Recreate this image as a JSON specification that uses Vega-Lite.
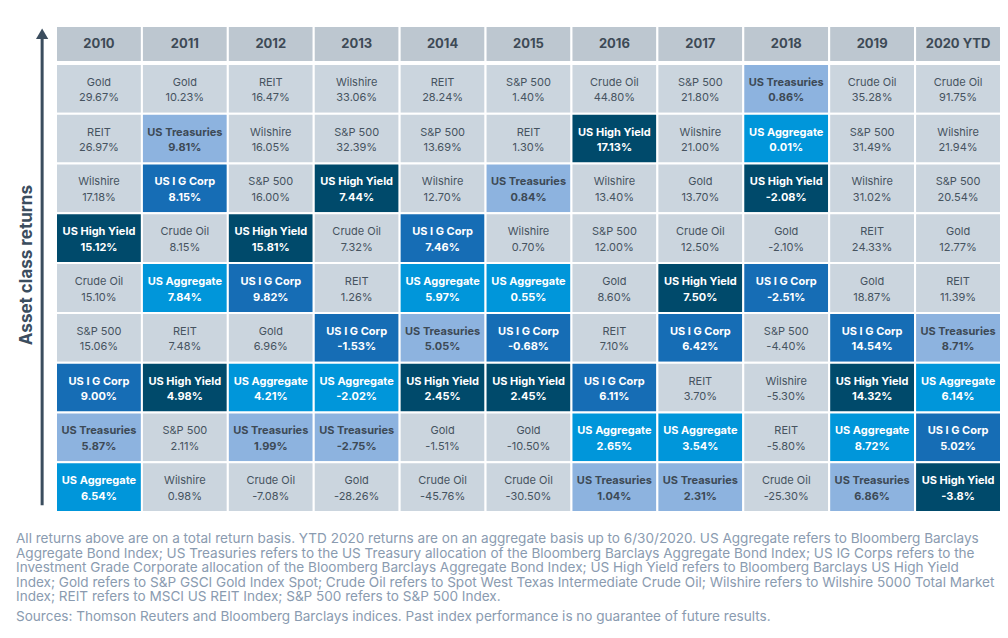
{
  "$schema": "https://vega.github.io/schema/vega-lite/v6.json",
  "background": "white",
  "padding": {"left": 16, "top": 25, "right": 0, "bottom": 0},
  "config": {"view": {"stroke": null}, "font": "Inter"},
  "datasets": {
    "years": [
      {"year": "2010"}, {"year": "2011"}, {"year": "2012"}, {"year": "2013"}, {"year": "2014"}, {"year": "2015"},
      {"year": "2016"}, {"year": "2017"}, {"year": "2018"}, {"year": "2019"}, {"year": "2020 YTD"}
    ],
    "cells": [
      {"year": "2010", "rank": 1, "asset": "Gold", "ret": "29.67%"},
      {"year": "2010", "rank": 2, "asset": "REIT", "ret": "26.97%"},
      {"year": "2010", "rank": 3, "asset": "Wilshire", "ret": "17.18%"},
      {"year": "2010", "rank": 4, "asset": "US High Yield", "ret": "15.12%"},
      {"year": "2010", "rank": 5, "asset": "Crude Oil", "ret": "15.10%"},
      {"year": "2010", "rank": 6, "asset": "S&P 500", "ret": "15.06%"},
      {"year": "2010", "rank": 7, "asset": "US I G Corp", "ret": "9.00%"},
      {"year": "2010", "rank": 8, "asset": "US Treasuries", "ret": "5.87%"},
      {"year": "2010", "rank": 9, "asset": "US Aggregate", "ret": "6.54%"},
      {"year": "2011", "rank": 1, "asset": "Gold", "ret": "10.23%"},
      {"year": "2011", "rank": 2, "asset": "US Treasuries", "ret": "9.81%"},
      {"year": "2011", "rank": 3, "asset": "US I G Corp", "ret": "8.15%"},
      {"year": "2011", "rank": 4, "asset": "Crude Oil", "ret": "8.15%"},
      {"year": "2011", "rank": 5, "asset": "US Aggregate", "ret": "7.84%"},
      {"year": "2011", "rank": 6, "asset": "REIT", "ret": "7.48%"},
      {"year": "2011", "rank": 7, "asset": "US High Yield", "ret": "4.98%"},
      {"year": "2011", "rank": 8, "asset": "S&P 500", "ret": "2.11%"},
      {"year": "2011", "rank": 9, "asset": "Wilshire", "ret": "0.98%"},
      {"year": "2012", "rank": 1, "asset": "REIT", "ret": "16.47%"},
      {"year": "2012", "rank": 2, "asset": "Wilshire", "ret": "16.05%"},
      {"year": "2012", "rank": 3, "asset": "S&P 500", "ret": "16.00%"},
      {"year": "2012", "rank": 4, "asset": "US High Yield", "ret": "15.81%"},
      {"year": "2012", "rank": 5, "asset": "US I G Corp", "ret": "9.82%"},
      {"year": "2012", "rank": 6, "asset": "Gold", "ret": "6.96%"},
      {"year": "2012", "rank": 7, "asset": "US Aggregate", "ret": "4.21%"},
      {"year": "2012", "rank": 8, "asset": "US Treasuries", "ret": "1.99%"},
      {"year": "2012", "rank": 9, "asset": "Crude Oil", "ret": "-7.08%"},
      {"year": "2013", "rank": 1, "asset": "Wilshire", "ret": "33.06%"},
      {"year": "2013", "rank": 2, "asset": "S&P 500", "ret": "32.39%"},
      {"year": "2013", "rank": 3, "asset": "US High Yield", "ret": "7.44%"},
      {"year": "2013", "rank": 4, "asset": "Crude Oil", "ret": "7.32%"},
      {"year": "2013", "rank": 5, "asset": "REIT", "ret": "1.26%"},
      {"year": "2013", "rank": 6, "asset": "US I G Corp", "ret": "-1.53%"},
      {"year": "2013", "rank": 7, "asset": "US Aggregate", "ret": "-2.02%"},
      {"year": "2013", "rank": 8, "asset": "US Treasuries", "ret": "-2.75%"},
      {"year": "2013", "rank": 9, "asset": "Gold", "ret": "-28.26%"},
      {"year": "2014", "rank": 1, "asset": "REIT", "ret": "28.24%"},
      {"year": "2014", "rank": 2, "asset": "S&P 500", "ret": "13.69%"},
      {"year": "2014", "rank": 3, "asset": "Wilshire", "ret": "12.70%"},
      {"year": "2014", "rank": 4, "asset": "US I G Corp", "ret": "7.46%"},
      {"year": "2014", "rank": 5, "asset": "US Aggregate", "ret": "5.97%"},
      {"year": "2014", "rank": 6, "asset": "US Treasuries", "ret": "5.05%"},
      {"year": "2014", "rank": 7, "asset": "US High Yield", "ret": "2.45%"},
      {"year": "2014", "rank": 8, "asset": "Gold", "ret": "-1.51%"},
      {"year": "2014", "rank": 9, "asset": "Crude Oil", "ret": "-45.76%"},
      {"year": "2015", "rank": 1, "asset": "S&P 500", "ret": "1.40%"},
      {"year": "2015", "rank": 2, "asset": "REIT", "ret": "1.30%"},
      {"year": "2015", "rank": 3, "asset": "US Treasuries", "ret": "0.84%"},
      {"year": "2015", "rank": 4, "asset": "Wilshire", "ret": "0.70%"},
      {"year": "2015", "rank": 5, "asset": "US Aggregate", "ret": "0.55%"},
      {"year": "2015", "rank": 6, "asset": "US I G Corp", "ret": "-0.68%"},
      {"year": "2015", "rank": 7, "asset": "US High Yield", "ret": "2.45%"},
      {"year": "2015", "rank": 8, "asset": "Gold", "ret": "-10.50%"},
      {"year": "2015", "rank": 9, "asset": "Crude Oil", "ret": "-30.50%"},
      {"year": "2016", "rank": 1, "asset": "Crude Oil", "ret": "44.80%"},
      {"year": "2016", "rank": 2, "asset": "US High Yield", "ret": "17.13%"},
      {"year": "2016", "rank": 3, "asset": "Wilshire", "ret": "13.40%"},
      {"year": "2016", "rank": 4, "asset": "S&P 500", "ret": "12.00%"},
      {"year": "2016", "rank": 5, "asset": "Gold", "ret": "8.60%"},
      {"year": "2016", "rank": 6, "asset": "REIT", "ret": "7.10%"},
      {"year": "2016", "rank": 7, "asset": "US I G Corp", "ret": "6.11%"},
      {"year": "2016", "rank": 8, "asset": "US Aggregate", "ret": "2.65%"},
      {"year": "2016", "rank": 9, "asset": "US Treasuries", "ret": "1.04%"},
      {"year": "2017", "rank": 1, "asset": "S&P 500", "ret": "21.80%"},
      {"year": "2017", "rank": 2, "asset": "Wilshire", "ret": "21.00%"},
      {"year": "2017", "rank": 3, "asset": "Gold", "ret": "13.70%"},
      {"year": "2017", "rank": 4, "asset": "Crude Oil", "ret": "12.50%"},
      {"year": "2017", "rank": 5, "asset": "US High Yield", "ret": "7.50%"},
      {"year": "2017", "rank": 6, "asset": "US I G Corp", "ret": "6.42%"},
      {"year": "2017", "rank": 7, "asset": "REIT", "ret": "3.70%"},
      {"year": "2017", "rank": 8, "asset": "US Aggregate", "ret": "3.54%"},
      {"year": "2017", "rank": 9, "asset": "US Treasuries", "ret": "2.31%"},
      {"year": "2018", "rank": 1, "asset": "US Treasuries", "ret": "0.86%"},
      {"year": "2018", "rank": 2, "asset": "US Aggregate", "ret": "0.01%"},
      {"year": "2018", "rank": 3, "asset": "US High Yield", "ret": "-2.08%"},
      {"year": "2018", "rank": 4, "asset": "Gold", "ret": "-2.10%"},
      {"year": "2018", "rank": 5, "asset": "US I G Corp", "ret": "-2.51%"},
      {"year": "2018", "rank": 6, "asset": "S&P 500", "ret": "-4.40%"},
      {"year": "2018", "rank": 7, "asset": "Wilshire", "ret": "-5.30%"},
      {"year": "2018", "rank": 8, "asset": "REIT", "ret": "-5.80%"},
      {"year": "2018", "rank": 9, "asset": "Crude Oil", "ret": "-25.30%"},
      {"year": "2019", "rank": 1, "asset": "Crude Oil", "ret": "35.28%"},
      {"year": "2019", "rank": 2, "asset": "S&P 500", "ret": "31.49%"},
      {"year": "2019", "rank": 3, "asset": "Wilshire", "ret": "31.02%"},
      {"year": "2019", "rank": 4, "asset": "REIT", "ret": "24.33%"},
      {"year": "2019", "rank": 5, "asset": "Gold", "ret": "18.87%"},
      {"year": "2019", "rank": 6, "asset": "US I G Corp", "ret": "14.54%"},
      {"year": "2019", "rank": 7, "asset": "US High Yield", "ret": "14.32%"},
      {"year": "2019", "rank": 8, "asset": "US Aggregate", "ret": "8.72%"},
      {"year": "2019", "rank": 9, "asset": "US Treasuries", "ret": "6.86%"},
      {"year": "2020 YTD", "rank": 1, "asset": "Crude Oil", "ret": "91.75%"},
      {"year": "2020 YTD", "rank": 2, "asset": "Wilshire", "ret": "21.94%"},
      {"year": "2020 YTD", "rank": 3, "asset": "S&P 500", "ret": "20.54%"},
      {"year": "2020 YTD", "rank": 4, "asset": "Gold", "ret": "12.77%"},
      {"year": "2020 YTD", "rank": 5, "asset": "REIT", "ret": "11.39%"},
      {"year": "2020 YTD", "rank": 6, "asset": "US Treasuries", "ret": "8.71%"},
      {"year": "2020 YTD", "rank": 7, "asset": "US Aggregate", "ret": "6.14%"},
      {"year": "2020 YTD", "rank": 8, "asset": "US I G Corp", "ret": "5.02%"},
      {"year": "2020 YTD", "rank": 9, "asset": "US High Yield", "ret": "-3.8%"}
    ]
  },
  "title": {
    "text": [
      "All returns above are on a total return basis. YTD 2020 returns are on an aggregate basis up to 6/30/2020. US Aggregate refers to Bloomberg Barclays",
      "Aggregate Bond Index; US Treasuries refers to the US Treasury allocation of the Bloomberg Barclays Aggregate Bond Index; US IG Corps refers to the",
      "Investment Grade Corporate allocation of the Bloomberg Barclays Aggregate Bond Index; US High Yield refers to Bloomberg Barclays US High Yield",
      "Index; Gold refers to S&P GSCI Gold Index Spot; Crude Oil refers to Spot West Texas Intermediate Crude Oil; Wilshire refers to Wilshire 5000 Total Market",
      "Index; REIT refers to MSCI US REIT Index; S&P 500 refers to S&P 500 Index."
    ],
    "subtitle": "Sources: Thomson Reuters and Bloomberg Barclays indices. Past index performance is no guarantee of future results.",
    "orient": "bottom",
    "anchor": "start",
    "frame": "group",
    "offset": 19,
    "font": "Inter",
    "fontSize": 13.55,
    "fontWeight": "normal",
    "color": "#8a9bb0",
    "lineHeight": 14.5,
    "subtitleFont": "Inter",
    "subtitleFontSize": 13.55,
    "subtitleColor": "#8a9bb0",
    "subtitlePadding": 6
  },
  "hconcat": [
    {
      "width": 39,
      "height": 484,
      "data": {"values": [{"label": "Asset class returns"}]},
      "layer": [
        {
          "mark": {"type": "rule", "strokeWidth": 3, "color": "#3b4d5e"},
          "encoding": {
            "x": {"datum": 0.67, "type": "quantitative", "scale": {"domain": [0, 1]}, "axis": null},
            "y": {"datum": 0.01, "type": "quantitative", "scale": {"domain": [0, 1]}, "axis": null},
            "y2": {"datum": 0.975}
          }
        },
        {
          "mark": {"type": "point", "shape": "triangle-up", "filled": true, "size": 150, "color": "#3b4d5e", "opacity": 1},
          "encoding": {
            "x": {"datum": 0.67, "type": "quantitative", "scale": {"domain": [0, 1]}, "axis": null},
            "y": {"datum": 0.984, "type": "quantitative", "scale": {"domain": [0, 1]}, "axis": null}
          }
        },
        {
          "mark": {"type": "text", "angle": 270, "fontSize": 17, "fontWeight": "bold", "color": "#3b4d5e", "font": "Inter", "align": "center", "baseline": "middle"},
          "encoding": {
            "x": {"datum": 0.29, "type": "quantitative", "scale": {"domain": [0, 1]}, "axis": null},
            "y": {"datum": 0.506, "type": "quantitative", "scale": {"domain": [0, 1]}, "axis": null},
            "text": {"field": "label"}
          }
        }
      ]
    },
    {
      "spacing": 0,
      "vconcat": [
        {
          "width": 945,
          "height": 36,
          "data": {"name": "years"},
          "encoding": {
            "x": {"field": "year", "type": "nominal", "sort": null, "axis": null, "scale": {"paddingInner": 0, "paddingOuter": 0}}
          },
          "layer": [
            {"mark": {"type": "rect", "fill": "#bdc7d0", "stroke": "white", "strokeWidth": 2}, "encoding": {}},
            {"mark": {"type": "text", "fontSize": 13, "fontWeight": "bold", "color": "#3d4a56", "font": "Inter"}, "encoding": {"text": {"field": "year"}}}
          ]
        },
        {
          "width": 945,
          "height": 448,
          "data": {"name": "cells"},
          "encoding": {
            "x": {"field": "year", "type": "nominal", "sort": null, "axis": null, "scale": {"paddingInner": 0, "paddingOuter": 0}},
            "y": {"field": "rank", "type": "ordinal", "axis": null, "scale": {"paddingInner": 0, "paddingOuter": 0}}
          },
          "layer": [
            {
              "mark": {"type": "rect", "stroke": "white", "strokeWidth": 2},
              "encoding": {
                "fill": {
                  "field": "asset", "type": "nominal", "legend": null,
                  "scale": {
                    "domain": ["Gold", "REIT", "Wilshire", "S&P 500", "Crude Oil", "US Treasuries", "US I G Corp", "US High Yield", "US Aggregate"],
                    "range": ["#cbd5de", "#cbd5de", "#cbd5de", "#cbd5de", "#cbd5de", "#8db3df", "#166db5", "#004a6b", "#0096da"]
                  }
                }
              }
            },
            {
              "transform": [{"filter": "indexof(['Gold','REIT','Wilshire','S&P 500','Crude Oil'], datum.asset) >= 0"}],
              "layer": [
                {"mark": {"type": "text", "fontSize": 11, "color": "#46535f", "font": "Inter", "yOffset": -6}, "encoding": {"text": {"field": "asset"}}},
                {"mark": {"type": "text", "fontSize": 11, "color": "#46535f", "font": "Inter", "yOffset": 9.5}, "encoding": {"text": {"field": "ret"}}}
              ]
            },
            {
              "transform": [{"filter": "indexof(['Gold','REIT','Wilshire','S&P 500','Crude Oil'], datum.asset) < 0"}],
              "encoding": {
                "color": {"condition": {"test": "datum.asset === 'US Treasuries'", "value": "#3d4a56"}, "value": "white"}
              },
              "layer": [
                {"mark": {"type": "text", "fontSize": 11, "fontWeight": "bold", "font": "Inter", "yOffset": -6}, "encoding": {"text": {"field": "asset"}}},
                {"mark": {"type": "text", "fontSize": 11, "fontWeight": "bold", "font": "Inter", "yOffset": 9.5}, "encoding": {"text": {"field": "ret"}}}
              ]
            }
          ]
        }
      ]
    }
  ],
  "spacing": 0
}
